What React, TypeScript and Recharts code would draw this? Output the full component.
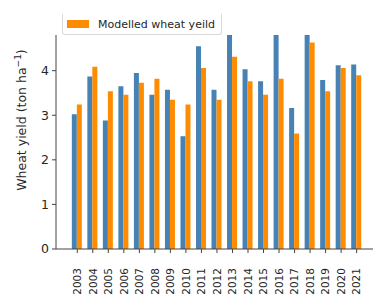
import React from "react";
import { Bar, BarChart, Legend, XAxis, YAxis } from "recharts";

const years = ["2003", "2004", "2005", "2006", "2007", "2008", "2009", "2010", "2011", "2012", "2013", "2014", "2015", "2016", "2017", "2018", "2019", "2020", "2021"];
const observed = [3.02, 3.87, 2.88, 3.65, 3.95, 3.46, 3.57, 2.53, 4.55, 3.57, 5.2, 4.03, 3.76, 5.1, 3.16, 5.3, 3.79, 4.12, 4.14];
const modelled = [3.24, 4.09, 3.54, 3.46, 3.73, 3.82, 3.35, 3.24, 4.06, 3.35, 4.31, 3.76, 3.46, 3.82, 2.59, 4.63, 3.54, 4.06, 3.9];
const yTicks = [0, 1, 2, 3, 4];

const data = years.map((year, i) => ({ year, observed: observed[i], modelled: modelled[i] }));

const FONT = "DejaVu Sans, sans-serif";
const TEXT = "#262626";
const SPINE = "#444";

function YearTick({ x, y, payload }: any) {
  return (
    <text
      x={x}
      y={y}
      transform={`rotate(-90 ${x} ${y})`}
      dx={-13}
      dy={3.8}
      textAnchor="end"
      fontSize={10.5}
      fill={TEXT}
      fontFamily={FONT}
    >
      {payload.value}
    </text>
  );
}

function YieldLabel() {
  return (
    <text
      x={26}
      y={120}
      transform="rotate(-90 26 120)"
      textAnchor="middle"
      fontSize={12.5}
      fill={TEXT}
      fontFamily={FONT}
    >
      Wheat yield (ton ha
      <tspan fontSize={9} dy={-5}>−1</tspan>
      <tspan dy={5}>)</tspan>
    </text>
  );
}

function LegendBox() {
  return (
    <div
      style={{
        width: 158,
        height: 20,
        border: "1px solid #d9d9d9",
        borderTop: "none",
        borderRadius: "0 0 3px 3px",
        background: "rgba(255,255,255,0.8)",
        display: "flex",
        alignItems: "center",
        fontFamily: FONT,
        fontSize: 11,
        color: TEXT,
      }}
    >
      <span style={{ display: "inline-block", width: 22, height: 8, background: "#FF8C00", marginLeft: 4, marginRight: 9 }} />
      Modelled wheat yeild
    </div>
  );
}

export default function App() {
  return (
    <div style={{ position: "absolute", left: 0, top: 0, width: 373, height: 299, overflow: "hidden", background: "#fff" }}>
      <BarChart
        width={390}
        height={299}
        data={data}
        margin={{ top: 14, right: 0, left: 0, bottom: 0 }}
        barCategoryGap="15%"
        barGap={0}
      >
        <XAxis
          dataKey="year"
          height={50}
          padding={{ left: 13.5, right: 25.6 }}
          interval={0}
          tick={<YearTick />}
          tickLine={{ stroke: SPINE }}
          tickSize={4}
          axisLine={{ stroke: SPINE }}
          label={{ value: "Year", position: "insideBottom", offset: -9, fontSize: 12.5, fill: TEXT, fontFamily: FONT, dx: -6 }}
        />
        <YAxis
          width={56}
          domain={[0, 4.8]}
          allowDataOverflow
          ticks={yTicks}
          tick={{ fontSize: 12.5, fill: TEXT, fontFamily: FONT }}
          tickLine={{ stroke: SPINE }}
          tickSize={4}
          tickMargin={3}
          axisLine={{ stroke: SPINE }}
          label={<YieldLabel />}
        />
        <Legend
          verticalAlign="top"
          align="left"
          content={<LegendBox />}
          wrapperStyle={{ position: "absolute", left: 62, top: 14, width: 160 }}
        />
        <Bar dataKey="observed" name="Observed wheat yield" fill="#4682B4" isAnimationActive={false} />
        <Bar dataKey="modelled" name="Modelled wheat yeild" fill="#FF8C00" isAnimationActive={false} />
      </BarChart>
    </div>
  );
}
